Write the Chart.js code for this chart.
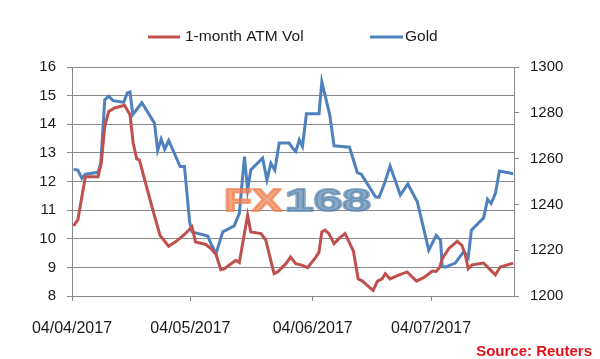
<!DOCTYPE html>
<html>
<head>
<meta charset="utf-8">
<script src="https://cdn.jsdelivr.net/npm/chart.js@4/dist/chart.umd.min.js"></script>
<style>
  html, body { margin: 0; padding: 0; background: #fff; }
  #wrap { position: relative; width: 600px; height: 359px; }
  #source { position: absolute; right: 8px; top: 341px; font: bold 15px "Liberation Sans", Arial, sans-serif; color: #e3101b; line-height: 19px; }
</style>
</head>
<body>
<div id="wrap">
  <canvas id="c" width="600" height="359"></canvas>
  <div id="source">Source: Reuters</div>
</div>
<script>
// Day offsets from 04/04/2017 (x positions)
const tickDays   = [0, 30, 61, 91];
const tickLabels = ['04/04/2017', '04/05/2017', '04/06/2017', '04/07/2017'];

const seriesNames = ['1-month ATM Vol', 'Gold'];

const volDays = [0.4, 1.5, 2.5, 3.4, 6.6, 7.4, 8.3, 9.3, 10.8, 13.3, 14.7, 15.5, 16.4, 17.1, 18.2,
  20.5, 22.3, 24.5, 26.4, 28.5, 30.4, 31.3, 33.9, 35.2, 36.5, 37.7, 38.6, 41.5, 42.4, 44.5, 45.3,
  47.9, 49.1, 51.2, 52.1, 54.2, 55.4, 56.7, 58.4, 59.7, 61.8, 62.6, 63.3, 64.1, 65.1, 66.4, 67.7,
  69.2, 70.2, 71.3, 72.5, 73.6, 75.3, 76.3, 77.4, 78.6, 79.4, 80.6, 82.6, 84.9, 87.3, 89.3, 91.3,
  92.3, 93.2, 93.8, 95.5, 97.6, 98.8, 99.7, 100.4, 101.4, 104.3, 107.3, 108.5, 111.8];
const volValues = [10.45, 10.67, 11.47, 12.17, 12.17, 12.64, 13.92, 14.45, 14.57, 14.66, 14.33, 13.34, 12.79, 12.75, 12.17,
  11.0, 10.12, 9.74, 9.91, 10.15, 10.41, 9.89, 9.80, 9.66, 9.45, 8.92, 8.95, 9.25, 9.17, 10.82, 10.24,
  10.18, 9.95, 8.78, 8.84, 9.13, 9.36, 9.13, 9.07, 8.99, 9.36, 9.54, 10.24, 10.30, 10.18, 9.83, 10.01,
  10.18, 9.89, 9.57, 8.60, 8.52, 8.31, 8.20, 8.52, 8.60, 8.78, 8.60, 8.72, 8.84, 8.52, 8.66, 8.87,
  8.86, 9.01, 9.30, 9.66, 9.91, 9.77, 9.42, 8.95, 9.09, 9.15, 8.74, 9.01, 9.15];

const goldDays = [0.4, 1.5, 2.5, 3.4, 6.6, 7.3, 8.3, 9.3, 10.4, 13.1, 14.0, 14.7, 15.4, 17.7,
  20.9, 21.7, 22.6, 23.5, 24.5, 27.4, 28.5, 29.8, 30.4, 34.4, 35.2, 36.5, 38.2, 41.1, 42.4, 43.7,
  44.5, 45.3, 48.3, 49.4, 50.4, 51.4, 52.5, 55.0, 55.9, 56.7, 57.6, 58.4, 59.4, 62.6, 63.3, 65.3,
  66.4, 70.3, 72.3, 73.3, 76.9, 77.8, 79.2, 80.6, 83.2, 85.1, 87.5, 90.4, 92.3, 93.4, 93.8, 94.6,
  97.1, 99.3, 100.4, 101.2, 104.3, 105.3, 106.2, 107.3, 108.3, 111.8];
const goldValues = [1255.3, 1255.0, 1251.4, 1253.2, 1254.0, 1258.0, 1285.7, 1287.2, 1285.3, 1284.6, 1288.7, 1289.1, 1279.2, 1284.4,
  1275.5, 1263.5, 1268.5, 1264.1, 1267.9, 1256.5, 1256.5, 1232.4, 1228.0, 1226.2, 1222.9, 1218.5, 1228.0, 1230.6, 1236.1, 1260.9,
  1246.3, 1255.0, 1260.2, 1250.7, 1258.0, 1255.0, 1266.8, 1266.8, 1264.6, 1263.1, 1268.2, 1265.3, 1279.6, 1279.6, 1293.5, 1279.2,
  1265.6, 1265.0, 1253.9, 1253.2, 1243.3, 1243.1, 1249.2, 1256.8, 1244.1, 1248.9, 1241.1, 1220.0, 1226.5, 1224.3, 1212.9, 1212.6,
  1214.4, 1219.5, 1216.8, 1228.7, 1234.1, 1242.2, 1240.4, 1244.8, 1254.6, 1253.4];

const RED = '#c0504d', BLUE = '#4f81bd', GRID = '#888888', TXT = '#1a1a1a';
const FONT = '"Liberation Sans", Arial, sans-serif';

const toPoints = (xs, ys) => xs.map((x, i) => ({ x: x, y: ys[i] }));

const legendPlugin = {
  id: 'customLegend',
  afterDraw(chart) {
    const ctx = chart.ctx;
    ctx.save();
    ctx.lineWidth = 3;
    ctx.font = '15.5px ' + FONT;
    ctx.textBaseline = 'middle';
    ctx.fillStyle = TXT;
    const items = [
      { x1: 148, x2: 180, tx: 185, color: RED, label: seriesNames[0] },
      { x1: 370, x2: 403, tx: 405, color: BLUE, label: seriesNames[1] }
    ];
    items.forEach(it => {
      ctx.strokeStyle = it.color;
      ctx.beginPath(); ctx.moveTo(it.x1, 37); ctx.lineTo(it.x2, 37); ctx.stroke();
      ctx.fillText(it.label, it.tx, 37);
    });
    ctx.restore();
  }
};

const watermarkPlugin = {
  id: 'watermark',
  afterDatasetsDraw(chart) {
    const ctx = chart.ctx;
    ctx.save();
    ctx.globalAlpha = 0.7;
    ctx.font = 'bold 31px "Liberation Sans", Arial, sans-serif';
    ctx.textBaseline = 'alphabetic';
    ctx.lineJoin = 'round';
    const parts = [
      { t: 'FX', x: 224, w: 58, c: '#f07f4f' },
      { t: '168', x: 285, w: 86, c: '#5884ae' }
    ];
    parts.forEach(p => {
      const mw = ctx.measureText(p.t).width;
      ctx.save();
      ctx.translate(p.x, 211);
      ctx.scale(p.w / mw, 1);
      ctx.fillStyle = p.c;
      ctx.strokeStyle = p.c;
      ctx.lineWidth = 2;
      ctx.strokeText(p.t, 0, 0);
      ctx.fillText(p.t, 0, 0);
      ctx.restore();
    });
    ctx.restore();
  }
};

new Chart(document.getElementById('c'), {
  type: 'line',
  data: {
    datasets: [
      { label: seriesNames[0], data: toPoints(volDays, volValues), borderColor: RED, backgroundColor: RED,
        borderWidth: 3, pointRadius: 0, tension: 0, yAxisID: 'y', fill: false },
      { label: seriesNames[1], data: toPoints(goldDays, goldValues), borderColor: BLUE, backgroundColor: BLUE,
        borderWidth: 3, pointRadius: 0, tension: 0, yAxisID: 'y1', fill: false }
    ]
  },
  options: {
    responsive: false,
    animation: false,
    layout: { padding: { top: 67, left: 0, right: 0, bottom: 0 } },
    plugins: { legend: { display: false }, tooltip: { enabled: false } },
    scales: {
      x: {
        type: 'linear', min: 0, max: 112,
        afterFit(s) { s.height = 63; },
        afterBuildTicks(s) { s.ticks = tickDays.map(v => ({ value: v })); },
        ticks: {
          autoSkip: false, maxRotation: 0, padding: 18, color: TXT,
          font: { family: FONT, size: 16 },
          callback(v) { const i = tickDays.indexOf(v); return i >= 0 ? tickLabels[i] : ''; }
        },
        grid: { drawOnChartArea: false, drawTicks: true, tickLength: 5, color: GRID },
        border: { color: GRID, width: 1 }
      },
      y: {
        position: 'left', min: 8, max: 16,
        afterFit(s) { s.width = 72; },
        ticks: { stepSize: 1, padding: 11, color: TXT, font: { family: FONT, size: 15 } },
        grid: { color: GRID, lineWidth: 1, tickLength: 5 },
        border: { color: GRID, width: 1 }
      },
      y1: {
        position: 'right', min: 1200, max: 1300,
        afterFit(s) { s.width = 86; },
        ticks: { stepSize: 20, padding: 11, color: TXT, font: { family: FONT, size: 15 },
          callback(v) { return String(v); } },
        grid: { drawOnChartArea: false, drawTicks: true, tickLength: 5, color: GRID },
        border: { color: GRID, width: 1 }
      }
    }
  },
  plugins: [legendPlugin, watermarkPlugin]
});
</script>
</body>
</html>
